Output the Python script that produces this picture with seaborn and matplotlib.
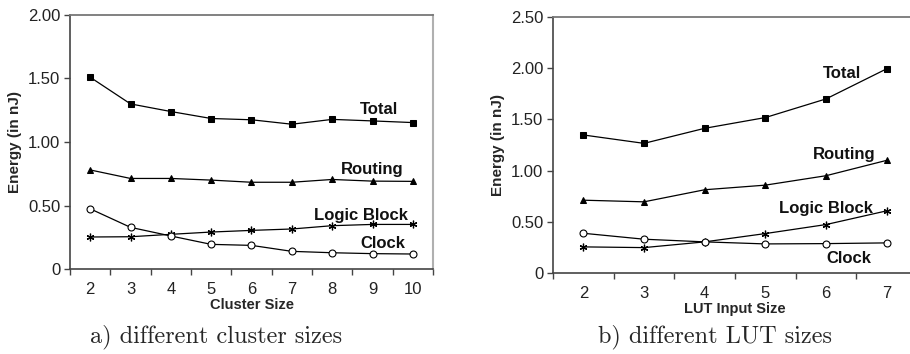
import matplotlib
matplotlib.use("Agg")
import matplotlib.pyplot as plt
import seaborn as sns
import pandas as pd
import numpy as np

# ---- data ----
cluster_sizes = [2, 3, 4, 5, 6, 7, 8, 9, 10]
cl_total = [1.51, 1.30, 1.24, 1.185, 1.175, 1.14, 1.178, 1.166, 1.153]
cl_routing = [0.78, 0.713, 0.713, 0.70, 0.683, 0.683, 0.705, 0.692, 0.69]
cl_logic = [0.252, 0.254, 0.273, 0.291, 0.304, 0.315, 0.341, 0.351, 0.351]
cl_clock = [0.474, 0.328, 0.26, 0.194, 0.186, 0.139, 0.128, 0.121, 0.118]

lut_sizes = [2, 3, 4, 5, 6, 7]
lut_total = [1.348, 1.266, 1.413, 1.518, 1.70, 1.994]
lut_routing = [0.711, 0.695, 0.813, 0.858, 0.95, 1.10]
lut_logic = [0.255, 0.248, 0.304, 0.385, 0.473, 0.607]
lut_clock = [0.388, 0.33, 0.304, 0.284, 0.287, 0.294]

series_names = ["Total", "Routing", "Logic Block", "Clock"]
y_ticks_a = [0, 0.5, 1.0, 1.5, 2.0]
y_labels_a = ["0", "0.50", "1.00", "1.50", "2.00"]
y_ticks_b = [0, 0.5, 1.0, 1.5, 2.0, 2.5]
y_labels_b = ["0", "0.50", "1.00", "1.50", "2.00", "2.50"]

sns.set_theme(style="white")
plt.rcParams['font.family'] = ['Liberation Sans', 'DejaVu Sans']

fig = plt.figure(figsize=(9.10, 3.54), dpi=100)
W, H = 910, 354

def px_axes(l, r, t, b):
    return fig.add_axes([l / W, (H - b) / H, (r - l) / W, (b - t) / H])

ax1 = px_axes(70, 433, 15, 269)
ax2 = px_axes(553, 917, 17, 273)

markers = {"Total": dict(marker="s", ms=5, mfc="black", mec="black"),
           "Routing": dict(marker="^", ms=5, mfc="black", mec="black"),
           "Logic Block": dict(marker=(6, 2, 0), ms=5.5, mfc="black", mec="black", mew=0.9),
           "Clock": dict(marker="o", ms=5, mfc="white", mec="black", mew=0.8)}

def draw(ax, cats, series, yt, ylab, xlabel, ymax, labels_pos):
    n = len(cats)
    idx = np.arange(n)
    for name, vals in zip(series_names, series):
        df = pd.DataFrame({"x": idx, "y": vals})
        sns.lineplot(data=df, x="x", y="y", ax=ax, color="black", lw=0.9,
                     **markers[name])
    ax.set_xlim(-0.5, n - 0.5)
    ax.set_ylim(0, ymax)
    ax.set_xticks(idx)
    ax.set_xticklabels([str(c) for c in cats], fontsize=12, color="#222222")
    ax.set_xticks(np.arange(-0.5, n, 1.0), minor=True)
    ax.tick_params(axis="x", which="major", length=0, pad=9)
    ax.tick_params(axis="x", which="minor", length=4, width=1, color="#444444", direction="out", bottom=True)
    ax.set_yticks(yt)
    ax.set_yticklabels(ylab, fontsize=12, color="#222222")
    ax.tick_params(axis="y", length=4, width=1, color="#444444", direction="out", left=True, pad=3)
    ax.set_xlabel(xlabel, fontsize=10.5, fontweight="bold", labelpad=1)
    ax.set_ylabel("Energy (in nJ)", fontsize=11, fontweight="bold", labelpad=4)
    for sp in ["left", "bottom"]:
        ax.spines[sp].set_color("#444444")
        ax.spines[sp].set_linewidth(1.2)
    ax.spines["top"].set_color("#777777")
    ax.spines["top"].set_linewidth(1.3)
    ax.spines["right"].set_color("#b0b0b0")
    ax.spines["right"].set_linewidth(1.5)
    for name, (x, y) in zip(series_names, labels_pos):
        ax.text(x, y, name, fontsize=12, fontweight="bold", ha="center", va="center", color="#111111")

draw(ax1, cluster_sizes, [cl_total, cl_routing, cl_logic, cl_clock],
     y_ticks_a, y_labels_a, "Cluster Size", 2.0,
     [(7.17, 1.258), (6.99, 0.781), (6.71, 0.419), (7.26, 0.202)])
draw(ax2, lut_sizes, [lut_total, lut_routing, lut_logic, lut_clock],
     y_ticks_b, y_labels_b, "LUT Input Size", 2.5,
     [(4.27, 1.952), (4.30, 1.159), (4.0, 0.633), (4.38, 0.137)])

fig.text(216 / W, 1 - 337 / H, "a) different cluster sizes", family="cmr10", fontsize=17.5,
         ha="center", va="center")
fig.text(715.5 / W, 1 - 337 / H, "b) different LUT sizes", family="cmr10", fontsize=17.5,
         ha="center", va="center")

fig.savefig("out.png", dpi=100)
